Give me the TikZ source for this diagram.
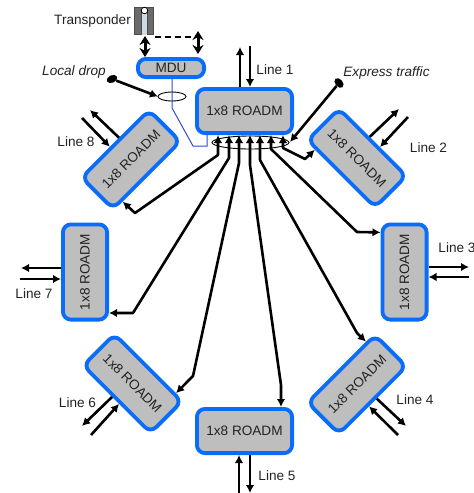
\documentclass[tikz,border=0pt]{standalone}
\usepackage{fontspec}
\setmainfont{Liberation Sans}
\usetikzlibrary{positioning,calc,shapes.geometric,arrows.meta}
\definecolor{roadmblue}{HTML}{0A6CFA}
\definecolor{roadmgray}{HTML}{BEBEBE}
\definecolor{dropblue}{HTML}{2A4FC8}
\definecolor{labelgray}{HTML}{222222}

\begin{document}
\begin{tikzpicture}[x=1pt,y=-1pt,
        block/.style={draw=roadmblue,fill=roadmgray,line width=3.8pt,rounded corners=8pt,text=labelgray,font=\fontsize{13.6}{15}\selectfont},
        roadm/.style={block,minimum width=95.2pt,minimum height=44.2pt},
        linelabel/.style={inner sep=0pt,text=labelgray,font=\fontsize{13.6}{15}\selectfont},
        stub/.style={line width=2.6pt,-{Latex[length=8pt,width=8.5pt]}},
        fan/.style={line width=2.6pt,{Latex[length=8pt,width=8.5pt]}-{Latex[length=8pt,width=8.5pt]},line join=round},
        twoway/.style={line width=3pt,{Stealth[length=9pt,width=11pt]}-{Stealth[length=9pt,width=11pt]}},
        ring/.style={draw,line width=0.9pt,ellipse,fill=none},
        blob/.style={fill=black,ellipse,inner sep=0pt,minimum width=11pt,minimum height=7.5pt}]
   \useasboundingbox (0,0) rectangle (474,493);

   \draw[dropblue,line width=1pt] (172,79) -- (172,108) -- (193,146) -- (207,146) -- (207,135);

   \node (R1) [roadm] at (244.5,111) {1x8 ROADM};
   \node (R2) [roadm,rotate=-45] at (357,158) {1x8 ROADM};
   \node (R3) [roadm,rotate=90] at (404.5,272) {1x8 ROADM};
   \node (R4) [roadm,rotate=45] at (357,384.5) {1x8 ROADM};
   \node (R5) [roadm,below=272pt of R1] {1x8 ROADM};
   \node (R6) [roadm,rotate=-45] at (132.5,383.5) {1x8 ROADM};
   \node (R7) [roadm,rotate=90] at (85,272) {1x8 ROADM};
   \node (R8) [roadm,rotate=45] at (131,159.5) {1x8 ROADM};
   \node (MDU) [block,minimum width=66.2pt,minimum height=18.2pt,inner sep=0pt] at (171,68) {MDU};

   \node (L1) [linelabel] at (275,70) {Line 1};
   \node (L2) [linelabel] at (428.5,148) {Line 2};
   \node (L3) [linelabel] at (457,248) {Line 3};
   \node (L4) [linelabel] at (415,400) {Line 4};
   \node (L5) [linelabel] at (277,476) {Line 5};
   \node (L6) [linelabel] at (77.5,403) {Line 6};
   \node (L7) [linelabel] at (34,294) {Line 7};
   \node (L8) [linelabel] at (76,142) {Line 8};

   % free ends of the line fibres
   \coordinate (O1) at (240,47);   \coordinate (I1) at (250,46);
   \coordinate (O2) at (399,109);  \coordinate (I2) at (408,117);
   \coordinate (O3) at (469,267);  \coordinate (I3) at (469,277);
   \coordinate (O4) at (406,426);  \coordinate (I4) at (398,435);
   \coordinate (O5) at (250,493);  \coordinate (I5) at (239,493);
   \coordinate (O6) at (82,426);   \coordinate (I6) at (91,435);
   \coordinate (O7) at (21,268);   \coordinate (I7) at (20,279);
   \coordinate (O8) at (90,110);   \coordinate (I8) at (82,118);

   \draw[stub] (O1 |- R1.north) -- (O1);
   \draw[stub] (I1) -- (I1 |- R1.north);
   \draw[stub] ($(R2.north west)!.44!(R2.north east)$) -- (O2);
   \draw[stub] (I2) -- ($(R2.north west)!.586!(R2.north east)$);
   \draw[stub] (R3.south |- O3) -- (O3);
   \draw[stub] (I3) -- (R3.south |- I3);
   \draw[stub] ($(R4.south west)!.54!(R4.south east)$) -- (O4);
   \draw[stub] (I4) -- ($(R4.south west)!.43!(R4.south east)$);
   \draw[stub] (O5 |- R5.south) -- (O5);
   \draw[stub] (I5) -- (I5 |- R5.south);
   \draw[stub] ($(R6.south west)!.45!(R6.south east)$) -- (O6);
   \draw[stub] (I6) -- ($(R6.south west)!.55!(R6.south east)$);
   \draw[stub] (R7.north |- O7) -- (O7);
   \draw[stub] (I7) -- (R7.north |- I7);
   \draw[stub] ($(R8.north west)!.57!(R8.north east)$) -- (O8);
   \draw[stub] (I8) -- ($(R8.north west)!.44!(R8.north east)$);

   \coordinate (F5) at (281,385);
   \draw[fan] ([xshift=-26.5pt]R1.south) -- ++(0,20) -- (135,213) -- ($(R8.south west)!.14!(R8.south east)$);
   \draw[fan] ([xshift=-15.5pt]R1.south) -- ++(0,23) -- (133,313) -- ($(R7.south west)!.086!(R7.south east)$);
   \draw[fan] ([xshift=-5.5pt]R1.south) -- ++(0,28) -- (193,376) -- ($(R6.north west)!.88!(R6.north east)$);
   \draw[fan] ([xshift=5.5pt]R1.south) -- ++(0,30) -- (F5) -- (F5 |- R5.north);
   \draw[fan] ([xshift=15.5pt]R1.south) -- ++(0,25) -- (357,333) -- ($(R4.north west)!.87!(R4.north east)$);
   \draw[fan] ([xshift=26.5pt]R1.south) -- ++(0,14) -- (357,232) -- ($(R3.north west)!.9!(R3.north east)$);
   \draw[fan] ([xshift=38.5pt]R1.south) -- ++(0,13) -- (305,159) -- ($(R2.south west)!.14!(R2.south east)$);

   \node (EX) [ring,minimum width=77pt,minimum height=13pt,inner sep=0pt,outer sep=0pt] at (250.5,142.5) {};
   \node (DR) [ring,minimum width=28pt,minimum height=9pt,inner sep=0pt,outer sep=0pt] at (172,96.5) {};

   \node (LD) [inner sep=0pt,text=labelgray,font=\fontsize{13.6}{15}\selectfont\itshape] at (74,72) {Local drop};
   \node (ET) [inner sep=0pt,text=labelgray,font=\fontsize{13.6}{15}\selectfont\itshape] at (386.5,73) {Express traffic};
   \node (LB) [blob,rotate=25] at (112,79) {};
   \node (EB) [blob,rotate=-50] at (339,83) {};
   \draw[stub] (LB) -- (DR.west);
   \coordinate (EE) at (290,142);
   \draw[stub] (EB) -- (EE);

   \node (TR) [draw=black!70,fill=black!58,line width=1pt,minimum width=19pt,minimum height=27pt,inner sep=0pt] at (144,21) {};
   \fill[cyan!25!gray!35] (141.5,10) rectangle (147.5,34.5);
   \draw[black!70,line width=.6pt] (141.5,10) -- (141.5,34.5) (147.5,10) -- (147.5,34.5);
   \node (TC) [draw,fill=white,circle,line width=.8pt,minimum size=6.5pt,inner sep=0pt] at (144.5,10.5) {};
   \node (TL) [linelabel,left=3pt of TR] {Transponder};

   \coordinate (T1) at (145,36);
   \coordinate (T2) at (198,31);
   \coordinate (M2) at (198,54);
   \coordinate (D1) at (155,37);
   \draw[twoway] (T1) -- (T1 |- MDU.north);
   \draw[twoway] (T2) -- (M2);
   \draw[line width=1.5pt,dash pattern=on 6pt off 4pt] (D1) -- (D1 -| T2);
\end{tikzpicture}
\end{document}
